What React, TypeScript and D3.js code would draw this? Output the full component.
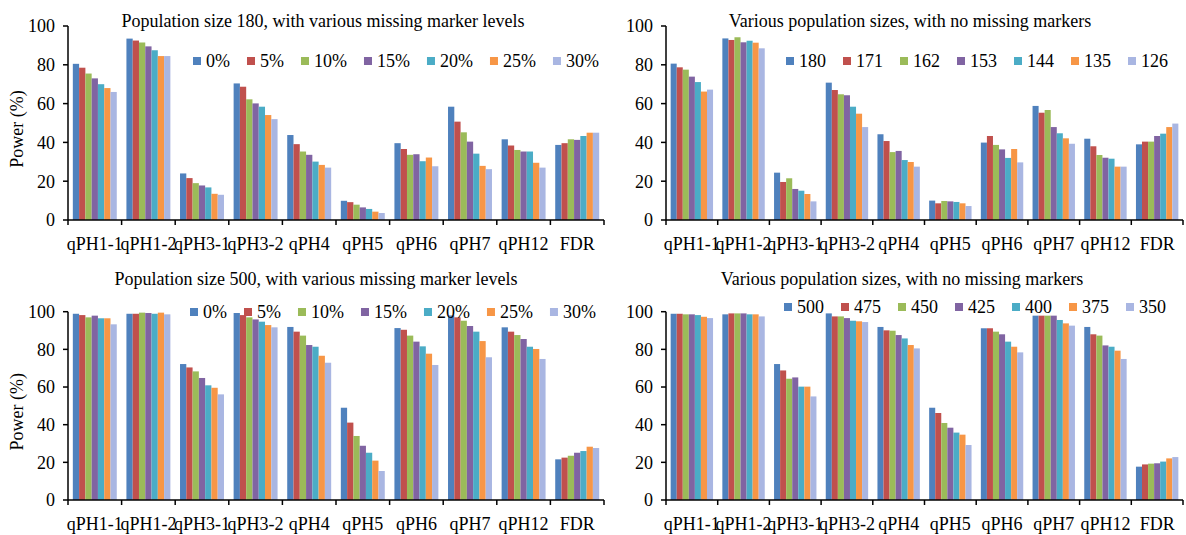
import React from 'react'
import * as d3 from 'd3'

// categories (x axis)
const CATEGORIES = ['qPH1-1', 'qPH1-2', 'qPH3-1', 'qPH3-2', 'qPH4', 'qPH5', 'qPH6', 'qPH7', 'qPH12', 'FDR']

// series names
const MISSING_LEVELS = ['0%', '5%', '10%', '15%', '20%', '25%', '30%']
const SIZES_SMALL = ['180', '171', '162', '153', '144', '135', '126']
const SIZES_LARGE = ['500', '475', '450', '425', '400', '375', '350']

const Y_TICKS = [0, 20, 40, 60, 80, 100]

// power (%) per category, one value per series
const POWER_180_MISSING = [
    [80.5, 78.5, 75.5, 73, 70, 68, 66],
    [93.5, 92.5, 91.5, 89.5, 87.5, 84.5, 84.5],
    [24, 21.6, 19, 17.8, 16.8, 13.5, 13],
    [70.4, 68.7, 62.2, 60.1, 58.4, 54.1, 52],
    [43.8, 39.1, 35.3, 33.6, 30.1, 28.4, 27],
    [9.9, 9.2, 7.9, 6.5, 5.7, 4.3, 3.6],
    [39.6, 36.6, 33.6, 33.9, 30.3, 32.2, 27.7],
    [58.4, 50.7, 45.2, 40.4, 34.2, 27.9, 26.2],
    [41.6, 38.4, 36.1, 35.3, 35.3, 29.5, 27],
    [38.7, 39.6, 41.6, 41.3, 43.3, 45, 45],
]

const POWER_SMALL_SIZES = [
    [80.6, 78.7, 77.5, 73.9, 71.1, 66.2, 67.2],
    [93.6, 92.8, 94.2, 91.6, 92.4, 91.4, 88.5],
    [24.4, 19.6, 21.5, 16, 15.1, 13.4, 9.6],
    [70.8, 67, 64.8, 64.3, 58.4, 54.8, 47.9],
    [44.2, 40.7, 35, 35.6, 30.9, 29.9, 27.5],
    [10, 8.6, 9.8, 9.6, 9.3, 8.6, 7.2],
    [39.9, 43.3, 38.7, 36.4, 32, 36.6, 29.7],
    [58.8, 55.3, 56.7, 47.9, 44.7, 42.1, 39.3],
    [41.9, 38, 33.5, 32.1, 31.6, 27.5, 27.5],
    [39, 40.4, 40.4, 43.3, 44.5, 47.9, 49.7],
]

const POWER_500_MISSING = [
    [98.9, 98.2, 97, 97.9, 96.5, 96.5, 93.3],
    [98.9, 98.9, 99.5, 99.3, 98.9, 99.5, 98.6],
    [72.2, 70.4, 68.3, 64.8, 60.9, 59.6, 56.1],
    [99.3, 98.2, 97, 95.9, 94.7, 92.9, 91.7],
    [91.9, 89.4, 87.3, 82.3, 81.4, 76.6, 72.9],
    [49, 41.1, 34, 28.8, 25.1, 20.9, 15.4],
    [91.3, 90.4, 87.3, 84.1, 81.6, 77.7, 71.7],
    [98, 97, 95.2, 92.4, 89.4, 84.4, 75.8],
    [91.7, 89.4, 87.6, 85.5, 81.4, 80.2, 74.9],
    [21.6, 22.5, 23.5, 25.1, 26, 28.3, 27.6],
]

const POWER_LARGE_SIZES = [
    [98.9, 98.9, 98.6, 98.6, 98.2, 97.3, 96.6],
    [98.6, 99.1, 99.1, 99.1, 98.6, 98.6, 97.5],
    [72.2, 68.8, 64.4, 65.1, 60.2, 60.2, 55],
    [99.1, 97.5, 97.5, 96.6, 95.2, 94.9, 94.5],
    [91.9, 90.1, 89.9, 87.6, 85.8, 82.3, 80.5],
    [49, 46.2, 40.9, 38.4, 35.8, 34.7, 29.2],
    [91.2, 91.2, 89.4, 88, 84.1, 81.4, 78.4],
    [97.9, 97.9, 97.9, 97.9, 95.6, 93.8, 92.6],
    [91.9, 88, 87.3, 82.1, 81.4, 79.3, 74.9],
    [17.7, 18.9, 19.3, 19.5, 20.4, 22.1, 22.8],
]

const COLORS = ['#4F81BD', '#C0504D', '#9BBB59', '#8064A2', '#4BACC6', '#F79646', '#A9B6E2']

const FONT = '"Liberation Serif", "Times New Roman", serif'

let measureCtx: CanvasRenderingContext2D | null = null
const textWidth = (s: string, size: number) => {
    if (!measureCtx) measureCtx = document.createElement('canvas').getContext('2d')
    if (!measureCtx) return s.length * size * 0.5
    measureCtx.font = `${size}px ${FONT}`
    return measureCtx.measureText(s).width
}

type PanelProps = {
    title: string
    series: string[]
    values: number[][]
    x0: number
    x1: number
    yBottom: number
    yTop: number
    titleX: number
    titleY: number
    legendX: number
    legendY: number
    showYLabel: boolean
}

const Panel: React.FC<PanelProps> = ({ title, series, values, x0, x1, yBottom, yTop, titleX, titleY, legendX, legendY, showYLabel }) => {
    const x = d3.scaleBand<string>().domain(CATEGORIES).range([x0, x1]).padding(0)
    const step = x.bandwidth()
    const xs = d3.scaleBand<string>().domain(series).range([step * 0.09, step * 0.91]).padding(0)
    const y = d3.scaleLinear().domain([0, 100]).range([yBottom, yTop])

    // legend layout
    let lx = legendX
    const legendItems = series.map((s, i) => {
        const item = { s, i, x: lx }
        lx += 8 + 5 + textWidth(s, 18) + 17
        return item
    })

    return (
        <g style={{ fontFamily: FONT }} fill="#000">
            {/* bars */}
            {CATEGORIES.map((c, ci) => (
                <g key={c} transform={`translate(${x(c)},0)`}>
                    {series.map((s, si) => (
                        <rect key={s}
                            x={xs(s)}
                            y={y(values[ci][si])}
                            width={xs.bandwidth()}
                            height={yBottom - y(values[ci][si])}
                            fill={COLORS[si]} />
                    ))}
                </g>
            ))}

            {/* y axis */}
            <line x1={x0} x2={x0} y1={yTop} y2={yBottom} stroke="#000" strokeWidth={1.5} />
            {Y_TICKS.map(t => (
                <g key={t}>
                    <line x1={x0 - 5} x2={x0} y1={y(t)} y2={y(t)} stroke="#000" strokeWidth={1.5} />
                    <text x={x0 - 13} y={y(t)} dy="0.35em" textAnchor="end" fontSize={18} style={{ fontFamily: FONT }}>{t}</text>
                </g>
            ))}

            {/* x axis */}
            <line x1={x0} x2={x1} y1={yBottom} y2={yBottom} stroke="#000" strokeWidth={1.5} />
            {[...CATEGORIES.map(c => x(c) as number), x1].map((t, i) => (
                <line key={i} x1={t} x2={t} y1={yBottom} y2={yBottom + 5} stroke="#000" strokeWidth={1.5} />
            ))}
            {CATEGORIES.map(c => (
                <text key={c} x={(x(c) as number) + step / 2} y={yBottom + 30} textAnchor="middle" fontSize={18} style={{ fontFamily: FONT }}>{c}</text>
            ))}

            {/* title */}
            <text x={titleX} y={titleY} textAnchor="middle" fontSize={18} style={{ fontFamily: FONT }}>{title}</text>

            {/* legend */}
            {legendItems.map(d => (
                <g key={d.s}>
                    <rect x={d.x} y={legendY - 10} width={8} height={8} fill={COLORS[d.i]} />
                    <text x={d.x + 13} y={legendY} fontSize={18} style={{ fontFamily: FONT }}>{d.s}</text>
                </g>
            ))}

            {showYLabel && (
                <text transform={`translate(23,${(yTop + yBottom) / 2 + 6}) rotate(-90)`} textAnchor="middle" fontSize={18} style={{ fontFamily: FONT }}>Power (%)</text>
            )}
        </g>
    )
}

export default function App() {
    return (
        <svg width={1186} height={535} style={{ display: 'block', position: 'absolute', left: 0, top: 0, background: '#fff' }}>
            <Panel title="Population size 180, with various missing marker levels"
                series={MISSING_LEVELS} values={POWER_180_MISSING}
                x0={68} x1={604} yBottom={220} yTop={26}
                titleX={323} titleY={27} legendX={193} legendY={67} showYLabel />
            <Panel title="Various population sizes, with no missing markers"
                series={SIZES_SMALL} values={POWER_SMALL_SIZES}
                x0={666} x1={1183} yBottom={220} yTop={26}
                titleX={910} titleY={27} legendX={786} legendY={67} showYLabel={false} />
            <Panel title="Population size 500, with various missing marker levels"
                series={MISSING_LEVELS} values={POWER_500_MISSING}
                x0={68} x1={604} yBottom={500} yTop={311.7}
                titleX={316} titleY={285} legendX={190} legendY={318} showYLabel />
            <Panel title="Various population sizes, with no missing markers"
                series={SIZES_LARGE} values={POWER_LARGE_SIZES}
                x0={666} x1={1183} yBottom={500} yTop={311.7}
                titleX={902} titleY={285} legendX={784} legendY={313} showYLabel={false} />
        </svg>
    )
}
